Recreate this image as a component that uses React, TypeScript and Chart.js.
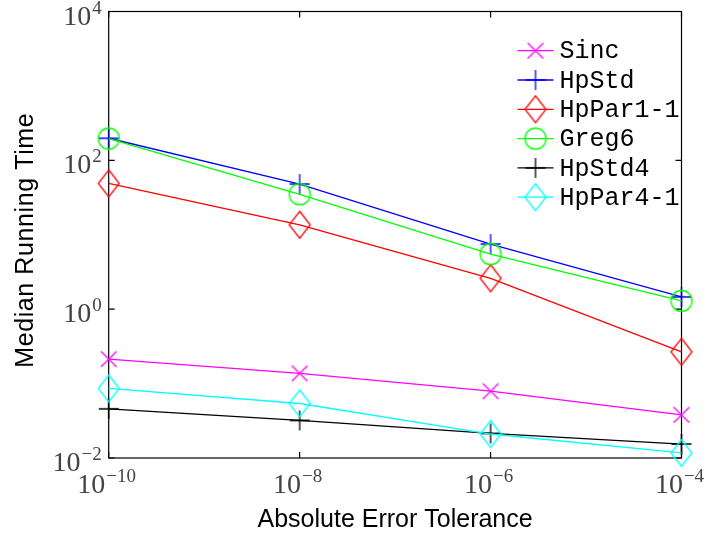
import React, { useEffect, useRef } from 'react';
import { Chart, registerables } from 'chart.js';

Chart.register(...registerables);

// ---- data ----
const tolerances = [1e-10, 1e-8, 1e-6, 1e-4];
const seriesNames = ['Sinc', 'HpStd', 'HpPar1-1', 'Greg6', 'HpStd4', 'HpPar4-1'];
const sincTimes = [0.213, 0.137, 0.079, 0.038];
const hpStdTimes = [198, 48, 7.5, 1.46];
const hpPar11Times = [49, 13.6, 2.6, 0.267];
const greg6Times = [196, 35, 5.5, 1.29];
const hpStd4Times = [0.0458, 0.032, 0.0214, 0.0154];
const hpPar41Times = [0.086, 0.054, 0.021, 0.0117];
const seriesColors = ['#ff00ff', '#0000ff', '#ff0000', '#00ff00', '#000000', '#00ffff'];
const seriesMarkers = ['cross', 'plus', 'diamond', 'circle', 'plus', 'diamond'];

const xTickValues = [1e-10, 1e-8, 1e-6, 1e-4];
const xTickExponents = ['\u221210', '\u22128', '\u22126', '\u22124'];
const yTickValues = [1e-2, 1e0, 1e2, 1e4];
const yTickExponents = ['\u22122', '0', '2', '4'];
const xTitle = 'Absolute Error Tolerance';
const yTitle = 'Median Running Time';

function makeMarker(kind: string, color: string): HTMLCanvasElement {
  const S = 34;
  const c = document.createElement('canvas');
  c.width = S;
  c.height = S;
  const ctx = c.getContext('2d')!;
  const m = S / 2;
  ctx.strokeStyle = color;
  ctx.lineWidth = 1.3;
  ctx.beginPath();
  if (kind === 'cross') {
    const h = 7.8;
    ctx.moveTo(m - h, m - h); ctx.lineTo(m + h, m + h);
    ctx.moveTo(m - h, m + h); ctx.lineTo(m + h, m - h);
  } else if (kind === 'plus') {
    const h = 10;
    ctx.moveTo(m - h, m); ctx.lineTo(m + h, m);
    ctx.moveTo(m, m - h); ctx.lineTo(m, m + h);
  } else if (kind === 'diamond') {
    const w = 10.5, hh = 13.5;
    ctx.moveTo(m, m - hh); ctx.lineTo(m + w, m); ctx.lineTo(m, m + hh); ctx.lineTo(m - w, m); ctx.closePath();
  } else {
    ctx.arc(m, m, 10.5, 0, Math.PI * 2);
  }
  ctx.stroke();
  return c;
}

const seriesValues = [sincTimes, hpStdTimes, hpPar11Times, greg6Times, hpStd4Times, hpPar41Times];

function drawPow(ctx: CanvasRenderingContext2D, exp: string, x: number, baseline: number, align: 'right' | 'center') {
  const baseFont = '28px "Liberation Serif", "DejaVu Serif", serif';
  const expFont = '19px "Liberation Serif", "DejaVu Serif", serif';
  ctx.font = baseFont;
  const bw = ctx.measureText('10').width;
  ctx.font = expFont;
  const ew = ctx.measureText(exp).width;
  const total = bw + ew + 1;
  const start = align === 'right' ? x - total : x - total / 2 - 2;
  ctx.textAlign = 'left';
  ctx.textBaseline = 'alphabetic';
  ctx.font = baseFont;
  ctx.fillText('10', start, baseline);
  ctx.font = expFont;
  ctx.fillText(exp, start + bw + 1, baseline - 11);
}

export default function App() {
  const ref = useRef<HTMLCanvasElement | null>(null);

  useEffect(() => {
    const canvas = ref.current;
    if (!canvas) return;
    const markers = seriesNames.map((_, i) => makeMarker(seriesMarkers[i], seriesColors[i]));

    const decoPlugin = {
      id: 'deco',
      beforeDatasetsDraw(chart: any) {
        const { ctx, chartArea: a, scales } = chart;
        ctx.save();
        ctx.strokeStyle = '#000';
        ctx.lineWidth = 1.2;
        ctx.strokeRect(a.left, a.top, a.right - a.left, a.bottom - a.top);
        ctx.beginPath();
        xTickValues.forEach((v) => {
          const px = scales.x.getPixelForValue(v);
          ctx.moveTo(px, a.bottom); ctx.lineTo(px, a.bottom - 6);
          ctx.moveTo(px, a.top); ctx.lineTo(px, a.top + 6);
        });
        yTickValues.forEach((v) => {
          const py = scales.y.getPixelForValue(v);
          ctx.moveTo(a.left, py); ctx.lineTo(a.left + 6, py);
          ctx.moveTo(a.right, py); ctx.lineTo(a.right - 6, py);
        });
        ctx.stroke();

        ctx.fillStyle = '#444444';
        xTickValues.forEach((v, i) => {
          const px = scales.x.getPixelForValue(v);
          drawPow(ctx, xTickExponents[i], px, a.bottom + 35, 'center');
        });
        yTickValues.forEach((v, i) => {
          const py = scales.y.getPixelForValue(v);
          drawPow(ctx, yTickExponents[i], a.left - 7, py + 13, 'right');
        });

        ctx.fillStyle = '#000';
        ctx.font = '25px "Liberation Sans", Arial, sans-serif';
        ctx.textAlign = 'center';
        ctx.textBaseline = 'alphabetic';
        ctx.fillText(xTitle, (a.left + a.right) / 2, 527);
        ctx.save();
        ctx.translate(33, (a.top + a.bottom) / 2 + 5.5);
        ctx.rotate(-Math.PI / 2);
        try { (ctx as any).letterSpacing = '0.6px'; } catch (e) { /* ignore */ }
        ctx.fillText(yTitle, 0, 0);
        ctx.restore();
        ctx.restore();
      },
      afterDraw(chart: any) {
        const { ctx, chartArea: a } = chart;
        ctx.save();
        const lx0 = a.right - 164;
        const lx1 = lx0 + 36;
        const tx = lx0 + 42;
        ctx.font = '25px "Liberation Mono", "DejaVu Sans Mono", monospace';
        ctx.textBaseline = 'middle';
        ctx.textAlign = 'left';
        seriesNames.forEach((name, i) => {
          const y = a.top + 39.2 + i * 29.3;
          ctx.strokeStyle = seriesColors[i];
          ctx.lineWidth = 1.3;
          ctx.beginPath();
          ctx.moveTo(lx0, y);
          ctx.lineTo(lx1, y);
          ctx.stroke();
          const mk = markers[i];
          ctx.drawImage(mk, (lx0 + lx1) / 2 - mk.width / 2, y - mk.height / 2);
          ctx.fillStyle = '#000';
          ctx.fillText(name, tx, y + 1);
        });
        ctx.restore();
      },
    };

    const chart = new Chart(canvas, {
      type: 'line',
      data: {
        datasets: seriesNames.map((name, i) => ({
          label: name,
          data: tolerances.map((t, j) => ({ x: t, y: seriesValues[i][j] })),
          borderColor: seriesColors[i],
          backgroundColor: seriesColors[i],
          borderWidth: 1.3,
          pointStyle: markers[i] as any,
          pointRadius: 10,
          pointHoverRadius: 10,
          fill: false,
          tension: 0,
          clip: false as any,
          order: seriesNames.length - i,
        })),
      },
      options: {
        responsive: false,
        animation: false,
        devicePixelRatio: 1,
        events: [],
        layout: { padding: { top: 11.5, right: 26.5, left: 0, bottom: 0 } },
        plugins: { legend: { display: false }, tooltip: { enabled: false }, title: { display: false } },
        scales: {
          x: {
            type: 'logarithmic',
            min: 1e-10,
            max: 1e-4,
            grid: { display: false },
            border: { display: false },
            ticks: { display: false },
            afterFit: (s: any) => { s.height = 78; },
          },
          y: {
            type: 'logarithmic',
            min: 1e-2,
            max: 1e4,
            grid: { display: false },
            border: { display: false },
            ticks: { display: false },
            afterFit: (s: any) => { s.width = 108.7; },
          },
        },
      },
      plugins: [decoPlugin],
    } as any);

    return () => chart.destroy();
  }, []);

  return (
    <div style={{ position: 'fixed', left: 0, top: 0, width: 708, height: 536, background: '#fff' }}>
      <canvas ref={ref} width={708} height={536} style={{ display: 'block' }} />
    </div>
  );
}
